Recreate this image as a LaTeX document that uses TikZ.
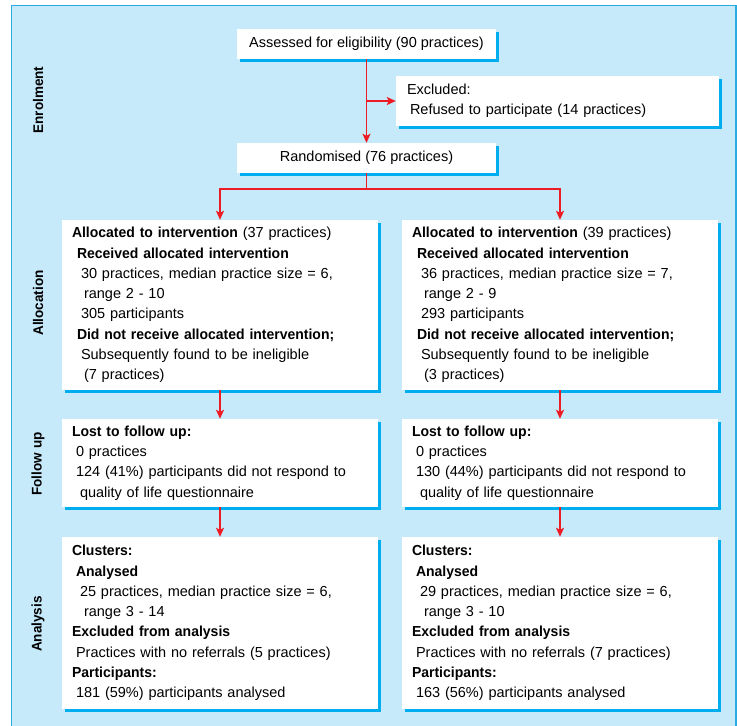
\documentclass[tikz,border=0pt]{standalone}
\usepackage{fontspec}
\setmainfont{Liberation Sans}[BoldFeatures={FakeStretch=0.965}]
\usepackage{xcolor}
\definecolor{PanelBlue}{RGB}{199,234,250}
\definecolor{FrameBlue}{RGB}{41,171,226}
\definecolor{ShadowCyan}{RGB}{0,174,239}
\definecolor{ArrowRed}{RGB}{237,28,36}
\usepackage{tikz}
\usetikzlibrary{arrows.meta, positioning, shadows}

\begin{document}
\begin{tikzpicture}[
		x=1pt, y=-1pt,
		% white box with a thin cyan shadow
		flowBox/.style={
			rectangle,
			fill=white,
			draw=none,
			inner xsep=10pt,
			inner ysep=6pt,
			font=\fontsize{14.5}{20.3}\selectfont,
			drop shadow={shadow xshift=3pt, shadow yshift=-3pt, fill=ShadowCyan, opacity=1}
		},
		% the wide boxes of the two arms
		armBox/.style={
			flowBox,
			minimum width=316pt,
			text width=296pt,
			align=left
		},
		% rotated names of the stages
		phaseLabel/.style={
			rotate=90,
			font=\fontsize{14}{16}\selectfont\bfseries
		},
		redLine/.style={ArrowRed, line width=1.5pt},
		redArrow/.style={redLine, -{Stealth[length=9pt, width=8pt, inset=2pt]}}
		]
		
		% panel
		\clip (0,0) rectangle (737,726);
		\draw[FrameBlue, line width=1.5pt, fill=PanelBlue] (11.5,5.5) rectangle (736,740);
		
		% stage names
		\node[phaseLabel] (enrol) at (38,100) {Enrolment};
		\node[phaseLabel] (alloc) at (38,303) {Allocation};
		\node[phaseLabel] (follow) at (38,464) {Follow up};
		\node[phaseLabel] (analys) at (38,624) {Analysis};
		
		% enrolment
		\node[flowBox, minimum width=259pt, minimum height=30pt] (assess) at (366.5,44) {
			Assessed for eligibility (90 practices)
		};
		\node[flowBox, minimum width=323pt, minimum height=50pt, text width=301pt, align=left] (excl) at (557.5,101) {
			Excluded:\\ \hspace*{3pt}Refused to participate (14 practices)
		};
		\node[flowBox, minimum width=259pt, minimum height=30pt] (rand) at (366.5,158) {
			Randomised (76 practices)
		};
		\coordinate (split) at (366.5,189);
		
		% allocation, left arm
		\node[armBox, minimum height=170pt] (allocL) at (220,305) {
			\textbf{Allocated to intervention} (37 practices)\\
			\hspace*{5pt}\textbf{Received allocated intervention}\\
			\hspace*{9pt}30 practices, median practice size = 6,\\
			\hspace*{12pt}range 2 - 10\\
			\hspace*{9pt}305 participants\\
			\hspace*{5pt}\textbf{Did not receive allocated intervention;}\\
			\hspace*{9pt}Subsequently found to be ineligible\\
			\hspace*{12pt}(7 practices)
		};
		
		% allocation, right arm
		\node[armBox, minimum height=170pt] (allocR) at (560,305) {
			\textbf{Allocated to intervention} (39 practices)\\
			\hspace*{5pt}\textbf{Received allocated intervention}\\
			\hspace*{9pt}36 practices, median practice size = 7,\\
			\hspace*{12pt}range 2 - 9\\
			\hspace*{9pt}293 participants\\
			\hspace*{5pt}\textbf{Did not receive allocated intervention;}\\
			\hspace*{9pt}Subsequently found to be ineligible\\
			\hspace*{12pt}(3 practices)
		};
		
		% follow up
		\node[armBox, minimum height=88pt] (followL) at (220,463) {
			\textbf{Lost to follow up:}\\
			\hspace*{4pt}0 practices\\
			\hspace*{4pt}124 (41\%) participants did not respond to\\
			\hspace*{8pt}quality of life questionnaire
		};
		\node[armBox, minimum height=88pt] (followR) at (560,463) {
			\textbf{Lost to follow up:}\\
			\hspace*{4pt}0 practices\\
			\hspace*{4pt}130 (44\%) participants did not respond to\\
			\hspace*{8pt}quality of life questionnaire
		};
		
		% analysis
		\node[armBox, minimum height=172pt] (analysL) at (220,623) {
			\textbf{Clusters:}\\
			\hspace*{4pt}\textbf{Analysed}\\
			\hspace*{8pt}25 practices, median practice size = 6,\\
			\hspace*{12pt}range 3 - 14\\
			\textbf{Excluded from analysis}\\
			\hspace*{4pt}Practices with no referrals (5 practices)\\
			\textbf{Participants:}\\
			\hspace*{4pt}181 (59\%) participants analysed
		};
		\node[armBox, minimum height=172pt] (analysR) at (560,623) {
			\textbf{Clusters:}\\
			\hspace*{4pt}\textbf{Analysed}\\
			\hspace*{8pt}29 practices, median practice size = 6,\\
			\hspace*{12pt}range 3 - 10\\
			\textbf{Excluded from analysis}\\
			\hspace*{4pt}Practices with no referrals (7 practices)\\
			\textbf{Participants:}\\
			\hspace*{4pt}163 (56\%) participants analysed
		};
		
		% connectors
		\draw[redArrow] (assess) -- (rand);
		\draw[redArrow] (assess.south |- excl.west) -- (excl.west);
		\draw[redLine] (rand) -- (split);
		\draw[redArrow] (split) -| (allocL.north);
		\draw[redArrow] (split) -| (allocR.north);
		\draw[redArrow] (allocL) -- (followL);
		\draw[redArrow] (allocR) -- (followR);
		\draw[redArrow] (followL) -- (analysL);
		\draw[redArrow] (followR) -- (analysR);
		
	\end{tikzpicture}
\end{document}
